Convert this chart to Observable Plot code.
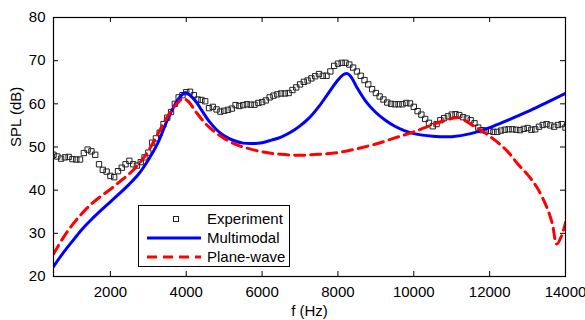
<!DOCTYPE html>
<html>
<head>
<meta charset="utf-8">
<script src="https://cdn.jsdelivr.net/npm/d3@7"></script>
<script src="https://cdn.jsdelivr.net/npm/@observablehq/plot@0.6"></script>
<style>
  html, body { margin: 0; padding: 0; background: #fff; }
  #wrap { position: relative; width: 585px; height: 320px; font-family: "Liberation Sans", Arial, Helvetica, sans-serif; }
  #legend { position: absolute; left: 138px; top: 205px; width: 152px; height: 62px; border: 1.2px solid #000; background: #fff; box-sizing: border-box; }
  .row { position: absolute; left: 0; height: 18px; width: 100%; }
  .row svg { position: absolute; left: 7px; top: 0; }
  .row span { position: absolute; left: 68px; top: 0; line-height: 18px; font-size: 15px; color: #000; }
</style>
</head>
<body>
<div id="wrap"></div>
<script>
// Experiment: SPL (dB) every 100 Hz from 500 Hz to 14000 Hz
const expStartHz = 500;
const expStepHz = 100;
const expSPL = [
  48.2, 47.8, 47.3, 47.6, 47.7, 47.2, 47.1, 47.1, 48.6, 49.4,
  49.0, 48.2, 46.0, 44.7, 44.3, 43.3, 43.0, 44.4, 45.2, 46.0,
  46.8, 46.0, 45.7, 46.5, 47.6, 48.7, 51.0, 52.0, 53.3, 55.3,
  56.8, 58.1, 60.0, 61.5, 62.0, 62.7, 62.8, 62.0, 61.0, 60.9,
  60.6, 59.0, 59.3, 58.7, 58.2, 58.4, 58.6, 58.9, 59.7, 59.5,
  59.7, 59.9, 59.8, 59.8, 60.2, 60.4, 60.8, 61.5, 61.9, 62.2,
  62.4, 62.4, 62.5, 63.2, 63.8, 64.5, 65.1, 65.4, 65.9, 66.4,
  66.9, 66.5, 66.5, 67.5, 68.8, 69.3, 69.5, 69.5, 69.1, 68.4,
  67.5, 66.5, 65.5, 64.5, 63.4, 62.5, 61.7, 61.0, 60.3, 60.0,
  59.9, 59.9, 59.9, 60.2, 60.1, 59.3, 58.3, 57.5, 56.5, 55.6,
  54.8, 55.3, 56.2, 56.7, 57.1, 57.5, 57.6, 57.4, 56.9, 56.6,
  56.2, 55.5, 54.5, 53.9, 53.8, 53.7, 53.5, 53.5, 53.8, 54.0,
  54.1, 54.1, 54.0, 53.9, 54.2, 54.4, 54.0, 54.1, 54.7, 55.1,
  55.3, 55.0, 54.7, 55.1, 55.3, 54.5
];

// Multimodal model
const multiF = [500, 750, 1000, 1250, 1500, 1750, 2000, 2250, 2500, 2750, 3000, 3250, 3500, 3750, 3900, 3980, 4100, 4250, 4400, 4600, 4800, 5000, 5250, 5500, 5750, 6000, 6250, 6500, 6750, 7000, 7250, 7500, 7750, 8000, 8150, 8250, 8350, 8500, 8750, 9000, 9250, 9500, 9750, 10000, 10500, 11000, 11500, 12000, 12500, 13000, 13500, 14000];
const multiSPL = [22.3, 25.4, 28.2, 30.9, 33.2, 35.3, 37.3, 39.3, 41.4, 43.8, 47.0, 50.9, 56.2, 60.6, 62.2, 62.6, 62.0, 60.6, 58.6, 56.0, 54.0, 52.6, 51.5, 50.9, 50.8, 51.0, 51.6, 52.3, 53.4, 54.9, 56.8, 59.4, 62.5, 65.5, 66.8, 67.0, 66.2, 63.8, 60.4, 58.0, 56.2, 54.8, 53.8, 53.1, 52.5, 52.4, 53.1, 54.5, 56.3, 58.2, 60.3, 62.4];

// Plane-wave model
const planeF = [500, 750, 1000, 1250, 1500, 1750, 2000, 2250, 2500, 2750, 3000, 3250, 3500, 3750, 3920, 4050, 4250, 4500, 4750, 5000, 5250, 5500, 6000, 6500, 7000, 7500, 8000, 8500, 9000, 9500, 10000, 10500, 11000, 11200, 11500, 11750, 12000, 12250, 12500, 12750, 13000, 13250, 13500, 13650, 13770, 13900, 14000];
const planeSPL = [25.2, 28.9, 32.0, 34.6, 36.8, 38.6, 40.2, 42.0, 43.8, 46.1, 49.1, 53.0, 57.0, 60.0, 61.2, 60.6, 58.2, 55.5, 53.5, 52.0, 50.8, 50.0, 48.9, 48.3, 48.1, 48.3, 48.7, 49.6, 50.7, 52.1, 53.5, 55.2, 56.6, 56.8, 55.3, 54.0, 52.5, 50.8, 48.7, 46.0, 43.6, 40.6, 36.2, 32.3, 27.5, 29.5, 32.5];

const xTicks = [2000, 4000, 6000, 8000, 10000, 12000, 14000];
const yTicks = [20, 30, 40, 50, 60, 70, 80];
const xDomain = [500, 14000];
const yDomain = [20, 80];

const W = 585, H = 320;
const mL = 53, mR = 20, mT = 17, mB = 44;
const plotW = W - mL - mR, plotH = H - mT - mB;
const tickLen = 5;

const expData = expSPL.map((v, i) => ({f: expStartHz + i * expStepHz, v}));
const multiData = multiF.map((f, i) => ({f, v: multiSPL[i]}));
const planeData = planeF.map((f, i) => ({f, v: planeSPL[i]}));

const chart = Plot.plot({
  width: W,
  height: H,
  marginLeft: mL,
  marginRight: mR,
  marginTop: mT,
  marginBottom: mB,
  style: {fontFamily: '"Liberation Sans", Arial, Helvetica, sans-serif', fontSize: "15px", background: "#fff", color: "#000"},
  x: {domain: xDomain},
  y: {domain: yDomain},
  marks: [
    Plot.dot(expData, {x: "f", y: "v", symbol: "square", r: 3, stroke: "#222", strokeWidth: 1, fill: "none", clip: true}),
    Plot.line(multiData, {x: "f", y: "v", stroke: "#0000ff", strokeWidth: 3, curve: "catmull-rom", clip: true}),
    Plot.line(planeData, {x: "f", y: "v", stroke: "#ff0000", strokeWidth: 3, strokeDasharray: "10,6", curve: "catmull-rom", clip: true}),
    // inward ticks on all four sides
    Plot.tickX(xTicks, {x: d => d, insetTop: plotH - tickLen, stroke: "#000"}),
    Plot.tickX(xTicks, {x: d => d, insetBottom: plotH - tickLen, stroke: "#000"}),
    Plot.tickY(yTicks, {y: d => d, insetRight: plotW - tickLen, stroke: "#000"}),
    Plot.tickY(yTicks, {y: d => d, insetLeft: plotW - tickLen, stroke: "#000"}),
    Plot.axisX(xTicks, {tickSize: 0, tickPadding: 10, label: null, tickFormat: d => String(d)}),
    Plot.axisY(yTicks, {tickSize: 0, tickPadding: 8, label: null}),
    Plot.frame({stroke: "#000", strokeWidth: 1.2}),
    Plot.text(["f (Hz)"], {frameAnchor: "bottom", dy: 39, text: d => d, fontSize: 15, lineAnchor: "bottom"}),
    Plot.text(["SPL (dB)"], {frameAnchor: "left", dx: -37, rotate: -90, text: d => d, fontSize: 15})
  ]
});

const wrap = document.getElementById("wrap");
wrap.appendChild(chart);

// legend
const legendItems = [
  {label: "Experiment", kind: "square"},
  {label: "Multimodal", kind: "solid"},
  {label: "Plane-wave", kind: "dash"}
];
const lg = document.createElement("div");
lg.id = "legend";
const rowTops = [4, 22.5, 41.5];
legendItems.forEach((it, i) => {
  const row = document.createElement("div");
  row.className = "row";
  row.style.top = rowTops[i] + "px";
  let sw;
  if (it.kind === "square") {
    sw = `<svg width="56" height="18"><rect x="27.5" y="6.5" width="5" height="5" fill="none" stroke="#222" stroke-width="1"/></svg>`;
  } else if (it.kind === "solid") {
    sw = `<svg width="56" height="18"><line x1="1" x2="55" y1="9" y2="9" stroke="#0000ff" stroke-width="3"/></svg>`;
  } else {
    sw = `<svg width="56" height="18"><line x1="1" x2="55" y1="9" y2="9" stroke="#ff0000" stroke-width="3" stroke-dasharray="10,6"/></svg>`;
  }
  row.innerHTML = sw + `<span>${it.label}</span>`;
  lg.appendChild(row);
});
wrap.appendChild(lg);
</script>
</body>
</html>
